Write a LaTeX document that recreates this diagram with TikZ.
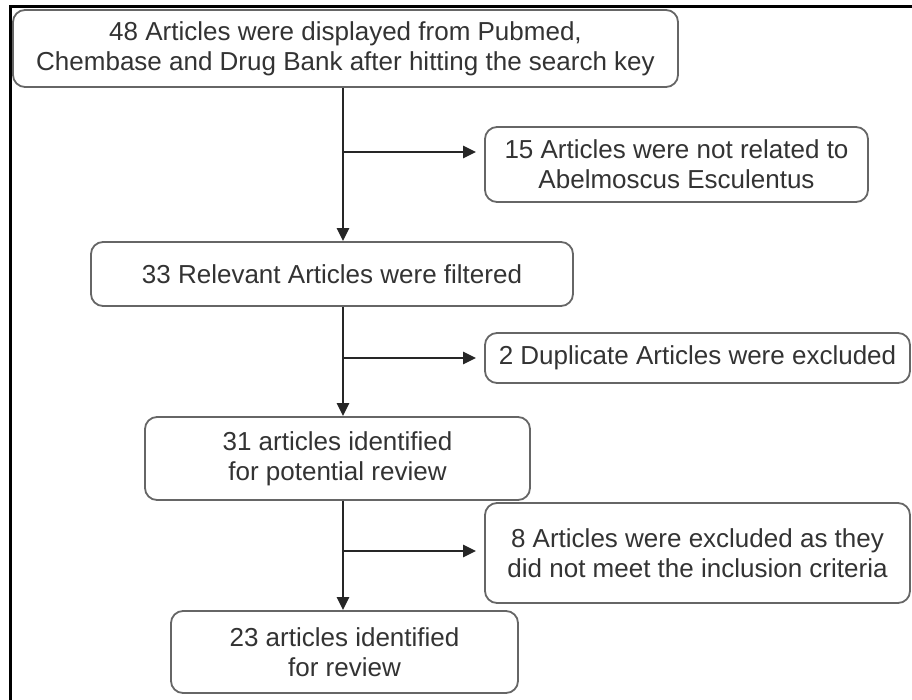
\documentclass[tikz,border=0pt]{standalone}
\usepackage{fontspec}
\setmainfont{Liberation Sans}
\usetikzlibrary{arrows.meta}
\definecolor{boxline}{HTML}{666666}
\definecolor{txt}{HTML}{333333}
\tikzset{
  box/.style={draw=boxline, line width=1.8pt, rounded corners=12pt, fill=white,
    align=center, inner sep=0pt, text=txt,
    font=\fontsize{26}{30}\selectfont},
  arr/.style={draw=black!85, line width=2.4pt,
    -{Triangle[length=13pt,width=12pt]}},
  frame/.style={draw=black, line width=3pt}
}
\begin{document}
\begin{tikzpicture}[x=1pt,y=-1pt]
\useasboundingbox (0,0) rectangle (912,700);
\node[box, minimum width=665pt, minimum height=77pt] (b1) at (345.5,48.5)
  {48 Articles were displayed from Pubmed,\\Chembase and Drug Bank after hitting the search key};
\node[box, minimum width=383pt, minimum height=75pt] (b2) at (676.5,164.5)
  {15 Articles were not related to\\Abelmoscus Esculentus};
\node[box, minimum width=482pt, minimum height=64pt] (b3) at (332,274)
  {33 Relevant Articles were filtered};
\node[box, minimum width=425pt, minimum height=50pt] (b4) at (697.5,358)
  {2 Duplicate Articles were excluded};
\node[box, minimum width=385pt, minimum height=83pt] (b5) at (337.5,458.5)
  {31 articles identified\\for potential review};
\node[box, minimum width=425pt, minimum height=100pt] (b6) at (697.5,553)
  {8 Articles were excluded as they\\did not meet the inclusion criteria};
\node[box, minimum width=347pt, minimum height=82pt] (b7) at (344.5,652)
  {23 articles identified\\for review};
\coordinate (t) at (343,0);
\coordinate (j1) at (343,152);
\coordinate (j2) at (343,358);
\coordinate (j3) at (343,551);
\draw[arr] (b1.south -| t) -- (b3.north -| t);
\draw[arr] (b3.south -| t) -- (b5.north -| t);
\draw[arr] (b5.south -| t) -- (b7.north -| t);
\draw[arr, shorten >=8pt] (j1) -- (b2.west |- j1);
\draw[arr, shorten >=8pt] (j2) -- (b4.west |- j2);
\draw[arr, shorten >=8pt] (j3) -- (b6.west |- j3);
\coordinate (fa) at (10.5,700);
\coordinate (fb) at (10.5,7);
\coordinate (fc) at (912,7);
\draw[frame] (fa) -- (fb) -- (fc);
\end{tikzpicture}
\end{document}
